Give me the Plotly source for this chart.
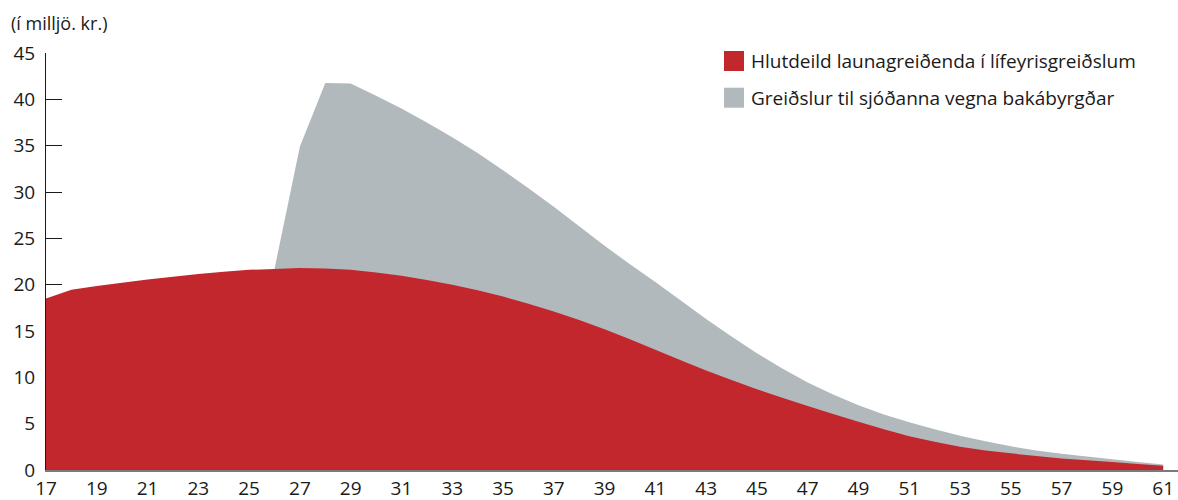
import plotly.graph_objects as go

# Years on the horizontal axis
years = list(range(17, 62))

# Employers' share of pension payments (ISK millions)
launagreidendur = [
    18.5, 19.45, 19.85, 20.2, 20.55, 20.85, 21.15, 21.4, 21.6, 21.7,
    21.8, 21.75, 21.6, 21.3, 20.95, 20.5, 19.98, 19.4, 18.72, 17.95,
    17.1, 16.2, 15.2, 14.1, 12.98, 11.85, 10.75, 9.72, 8.72, 7.8,
    6.9, 6.05, 5.2, 4.4, 3.65, 3.05, 2.5, 2.1, 1.8, 1.5,
    1.25, 1.05, 0.85, 0.65, 0.45,
]

# Payments to the funds under the state guarantee (ISK millions), from year 26
bakabyrgd_years = list(range(26, 62))
bakabyrgd = [
    0.0, 13.1, 20.0, 20.1, 19.1, 18.05, 17.0, 15.92, 14.8, 13.63,
    12.45, 11.3, 10.1, 9.0, 8.1, 7.32, 6.45, 5.55, 4.68, 3.88,
    3.15, 2.55, 2.1, 1.8, 1.6, 1.5, 1.35, 1.2, 1.0, 0.75,
    0.6, 0.5, 0.4, 0.3, 0.2, 0.15,
]

series_names = [
    "Hlutdeild launagreiðenda í lífeyrisgreiðslum",
    "Greiðslur til sjóðanna vegna bakábyrgðar",
]
series_colors = ["#C1272D", "#B1B9BD"]

y_ticks = list(range(0, 50, 5))
x_ticks = list(range(17, 62, 2))
unit_label = "(í milljö. kr.)"

FONT = "Open Sans"
W, H = 1178, 500
M_L, M_R, M_T, M_B = 46, 0, 53, 30

# Stack the guarantee payments on top of the employers' share
offset = {y: v for y, v in zip(years, launagreidendur)}
total = [offset[y] + g for y, g in zip(bakabyrgd_years, bakabyrgd)]

fig = go.Figure()
fig.add_trace(go.Scatter(
    x=bakabyrgd_years, y=total, mode="none", fill="tozeroy",
    fillcolor=series_colors[1], name=series_names[1], showlegend=False,
    hoverinfo="skip",
))
fig.add_trace(go.Scatter(
    x=years, y=launagreidendur, mode="none", fill="tozeroy",
    fillcolor=series_colors[0], name=series_names[0], showlegend=False,
    hoverinfo="skip",
))

plot_w = W - M_L - M_R
plot_h = H - M_T - M_B


def px_to_paper(px, py):
    return (px - M_L) / plot_w, (H - M_B - py) / plot_h


# Legend: coloured squares with labels, top right of the plot
shapes = []
annotations = []
for i, (name, color) in enumerate(zip(series_names, series_colors)):
    top = 51 + i * 36.7
    x0, y0 = px_to_paper(724, top + 20)
    x1, y1 = px_to_paper(744, top)
    shapes.append(dict(type="rect", xref="paper", yref="paper",
                       x0=x0, x1=x1, y0=y0, y1=y1,
                       fillcolor=color, line=dict(width=0), layer="above"))
    tx, ty = px_to_paper(749, top + 10)
    annotations.append(dict(xref="paper", yref="paper", x=tx, y=ty,
                            xanchor="left", yanchor="middle", showarrow=False,
                            text=name, font=dict(family=FONT, size=19, color="#1a1a1a")))

ux, uy = px_to_paper(9, 23)
annotations.append(dict(xref="paper", yref="paper", x=ux, y=uy,
                        xanchor="left", yanchor="middle", showarrow=False,
                        text=unit_label, font=dict(family=FONT, size=18, color="#1a1a1a")))

fig.update_layout(
    width=W, height=H,
    margin=dict(l=M_L, r=M_R, t=M_T, b=M_B, pad=0),
    plot_bgcolor="white", paper_bgcolor="white",
    showlegend=False,
    shapes=shapes, annotations=annotations,
    font=dict(family=FONT, size=19, color="#1a1a1a"),
)
fig.update_xaxes(
    range=[17, 17 + plot_w / 25.39],
    tickvals=x_ticks, ticktext=[str(t) for t in x_ticks],
    showgrid=False, zeroline=False,
    showline=True, linecolor="#7a7a7a", linewidth=1.5,
    ticks="", layer="below traces",
    tickfont=dict(family=FONT, size=19, color="#1a1a1a"),
)
fig.update_yaxes(
    range=[0, 45],
    tickvals=y_ticks, ticktext=[str(t) for t in y_ticks],
    showgrid=False, zeroline=False,
    showline=True, linecolor="#1a1a1a", linewidth=1,
    ticks="inside", ticklen=16, tickwidth=1, tickcolor="#1a1a1a",
    ticklabelstandoff=6,
    layer="below traces",
    tickfont=dict(family=FONT, size=19, color="#1a1a1a"),
)

fig.write_html("out.html")
